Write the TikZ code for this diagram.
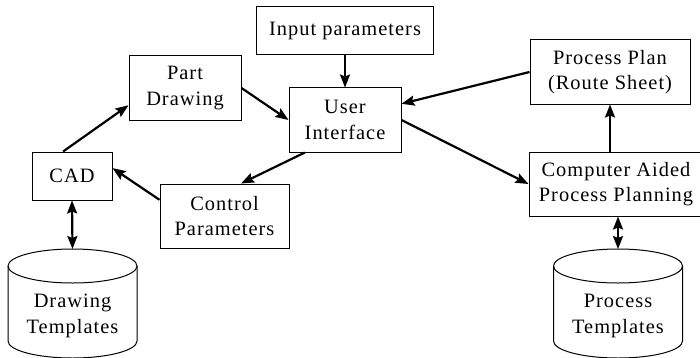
\documentclass[tikz,border=0pt]{standalone}
\usepackage{fontspec}
\setmainfont[LetterSpace=5]{Liberation Serif}
\usetikzlibrary{arrows.meta, positioning}

\begin{document}
\begin{tikzpicture}[
    x=0.5pt, y=-0.5pt,
    block/.style={rectangle, draw, line width=0.5pt, inner sep=0pt, align=center, font=\fontsize{10.2}{12.8}\selectfont},
    label/.style={inner sep=0pt, align=center, font=\fontsize{10.2}{12.8}\selectfont},
    db/.style={line width=0.5pt},
    arrow/.style={-{Stealth[length=6.5pt, width=5pt, inset=1pt]}, line width=1.1pt},
    twoway/.style={{Stealth[length=6.5pt, width=5pt, inset=1pt]}-{Stealth[length=6.5pt, width=5pt, inset=1pt]}, line width=1.1pt}
]
    \useasboundingbox (0,0) rectangle (700,358);

    % Boxes
    \node[block, minimum width=88.5pt, minimum height=24pt] (input) at (345,31) {Input parameters};
    \node[block, minimum width=56pt, minimum height=32pt] (part) at (185,88) {Part\\Drawing};
    \node[block, minimum width=56pt, minimum height=32pt] (ui) at (345,120) {User\\Interface};
    \node[block, minimum width=40pt, minimum height=24pt] (cad) at (72,176) {CAD};
    \node[block, minimum width=64.5pt, minimum height=32pt] (ctrl) at (224.5,216) {Control\\Parameters};
    \node[block, minimum width=80pt, minimum height=32pt] (plan) at (610,72) {Process Plan\\(Route Sheet)};
    \node[block, minimum width=87pt, minimum height=32pt] (capp) at (616,184) {Computer Aided\\Process Planning};

    % Databases
    \draw[db] (72.5,266) ellipse [x radius=32.25pt, y radius=8.5pt];
    \draw[db] (8,266) -- (8,341) arc[start angle=180, end angle=360, x radius=32.25pt, y radius=8.5pt] -- (137,266);
    \node[label] (dtext) at (72.5,316) {Drawing\\Templates};
    \coordinate (dtop) at (72.5,249);

    \draw[db] (618,266) ellipse [x radius=32.25pt, y radius=8.5pt];
    \draw[db] (553.5,266) -- (553.5,341) arc[start angle=180, end angle=360, x radius=32.25pt, y radius=8.5pt] -- (682.5,266);
    \node[label] (ptext) at (618,316) {Process\\Templates};
    \coordinate (ptop) at (618,249);

    % Arrows
    \draw[arrow] (input.south) -- (ui.north);
    \draw[arrow] (part.east) -- (ui.west);
    \draw[arrow] (cad.110) -- (part.197);
    \draw[arrow] (ui.219) -- (ctrl.63);
    \draw[arrow] (ctrl.166) -- (cad.11);
    \draw[arrow] (plan.west) -- (ui.16);
    \draw[arrow] (ui.east) -- (capp.west);
    \draw[arrow] (capp.north -| plan.south) -- (plan.south);
    \draw[twoway] (cad.south) -- (dtop);
    \draw[twoway] (capp.south -| ptop) -- (ptop);
\end{tikzpicture}
\end{document}
